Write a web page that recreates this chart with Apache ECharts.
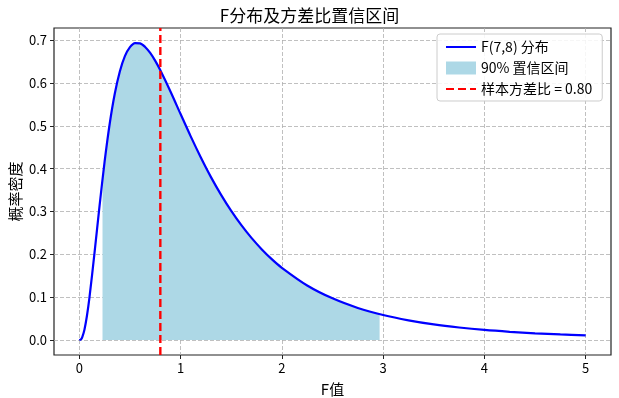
<!DOCTYPE html>
<html>
<head>
<meta charset="utf-8">
<script src="https://cdn.jsdelivr.net/npm/echarts@6/dist/echarts.min.js"></script>
<style>
  html, body { margin: 0; padding: 0; background: #fff; }
  #main { width: 619px; height: 398px; }
</style>
</head>
<body>
<div id="main"></div>
<script>
// F(7,8) density
const fX = [0, 0.02, 0.03, 0.05, 0.075, 0.1, 0.15, 0.2, 0.25, 0.3, 0.35, 0.4, 0.45, 0.5, 0.55, 0.6, 0.65, 0.7, 0.75, 0.8, 0.9,
  1.0, 1.1, 1.2, 1.3, 1.4, 1.5, 1.6, 1.7, 1.8, 1.9, 2.0, 2.25, 2.5, 2.75, 3.0, 3.25, 3.5, 3.75, 4.0, 4.25, 4.5, 4.75, 5.0];
const fY = [0, 0.0029, 0.0076, 0.0238, 0.0563, 0.0991, 0.2033, 0.3138, 0.4168, 0.5047, 0.5747, 0.6267, 0.6624, 0.6833, 0.6929, 0.6922, 0.6838, 0.6698, 0.6512, 0.6293, 0.5799,
  0.5273, 0.4752, 0.4260, 0.3802, 0.3388, 0.3014, 0.2681, 0.2384, 0.2122, 0.1890, 0.1687, 0.1275, 0.0974, 0.0751, 0.0585, 0.0461, 0.0366, 0.0294, 0.0237, 0.0194, 0.0159, 0.0132, 0.0109];

// 90% interval shading
const ciX = [0.229, 0.25, 0.3, 0.35, 0.4, 0.45, 0.5, 0.55, 0.6, 0.65, 0.7, 0.75, 0.8, 0.9, 1.0, 1.1, 1.2, 1.3, 1.4, 1.5, 1.6, 1.7, 1.8, 1.9, 2.0, 2.25, 2.5, 2.75, 2.965];
const ciY = [0.3752, 0.4168, 0.5047, 0.5747, 0.6267, 0.6624, 0.6833, 0.6929, 0.6922, 0.6838, 0.6698, 0.6512, 0.6293, 0.5799, 0.5273, 0.4752, 0.4260, 0.3802, 0.3388, 0.3014, 0.2681, 0.2384, 0.2122, 0.1890, 0.1687, 0.1275, 0.0974, 0.0751, 0.0607];

const sampleRatio = 0.80;
const xTicks = [0, 1, 2, 3, 4, 5];
const yTicks = [0, 0.1, 0.2, 0.3, 0.4, 0.5, 0.6, 0.7];

const yMin = -0.0347, yMax = 0.728;
const font = '"Noto Sans CJK SC", "DejaVu Sans", sans-serif';

const chart = echarts.init(document.getElementById('main'));

const gridLine = { show: true, lineStyle: { color: '#b0b0b0', type: [4, 2], width: 0.8 } };
const noSymbol = { opacity: 0 };

chart.setOption({
  animation: false,
  textStyle: { fontFamily: font },
  title: {
    text: 'F分布及方差比置信区间',
    left: 'center', top: 2,
    textStyle: { fontSize: 17, fontWeight: 'normal', color: '#000', fontFamily: font }
  },
  grid: {
    left: 54, right: 8, top: 28, bottom: 43, outerBoundsMode: 'none',
    show: true, borderColor: '#222', borderWidth: 1.2, backgroundColor: 'transparent'
  },
  legend: {
    orient: 'vertical', left: 437, top: 34,
    backgroundColor: 'rgba(255,255,255,0.85)',
    borderColor: '#ccc', borderWidth: 1, borderRadius: 3,
    padding: [6, 10, 5, 8],
    itemWidth: 30, itemHeight: 13, itemGap: 7,
    textStyle: { fontSize: 14, color: '#000', fontFamily: font },
    data: [
      { name: 'F(7,8) 分布', itemStyle: noSymbol },
      { name: '90% 置信区间', icon: 'rect' },
      { name: '样本方差比 = 0.80', itemStyle: noSymbol }
    ]
  },
  xAxis: {
    type: 'value', min: -0.25, max: 5.25,
    name: 'F值', nameLocation: 'middle', nameGap: 27, nameMoveOverlap: false,
    nameTextStyle: { fontSize: 15, color: '#000', fontFamily: font },
    axisLine: { show: false, onZero: false },
    axisTick: { show: true, length: 4, customValues: xTicks, lineStyle: { color: '#222' } },
    axisLabel: { customValues: xTicks, fontSize: 13, color: '#000', margin: 7 },
    splitLine: gridLine
  },
  yAxis: {
    type: 'value', min: yMin, max: yMax,
    name: '概率密度', nameLocation: 'middle', nameGap: 31, nameRotate: 90, nameMoveOverlap: false,
    nameTextStyle: { fontSize: 15, color: '#000', fontFamily: font },
    axisLine: { show: false, onZero: false },
    axisTick: { show: true, length: 4, customValues: yTicks, lineStyle: { color: '#222' } },
    axisLabel: { customValues: yTicks, fontSize: 13, color: '#000', margin: 7, formatter: v => v.toFixed(1) },
    splitLine: gridLine
  },
  series: [
    {
      name: '90% 置信区间', type: 'line', z: 1,
      data: ciX.map((x, i) => [x, ciY[i]]),
      symbol: 'none', smooth: 0.3,
      lineStyle: { width: 0 },
      itemStyle: { color: '#ADD8E6' },
      areaStyle: { color: '#ADD8E6', opacity: 1 }
    },
    {
      name: 'F(7,8) 分布', type: 'line', z: 3,
      data: fX.map((x, i) => [x, fY[i]]),
      symbol: 'none', smooth: 0.3,
      lineStyle: { color: '#0000ff', width: 2.2 },
      itemStyle: { color: '#0000ff' }
    },
    {
      name: '样本方差比 = 0.80', type: 'line', z: 4,
      data: [[sampleRatio, yMin], [sampleRatio, yMax]],
      symbol: 'none',
      lineStyle: { color: '#ff0000', width: 2.4, type: [8, 4] },
      itemStyle: { color: '#ff0000' }
    }
  ]
});
</script>
</body>
</html>
